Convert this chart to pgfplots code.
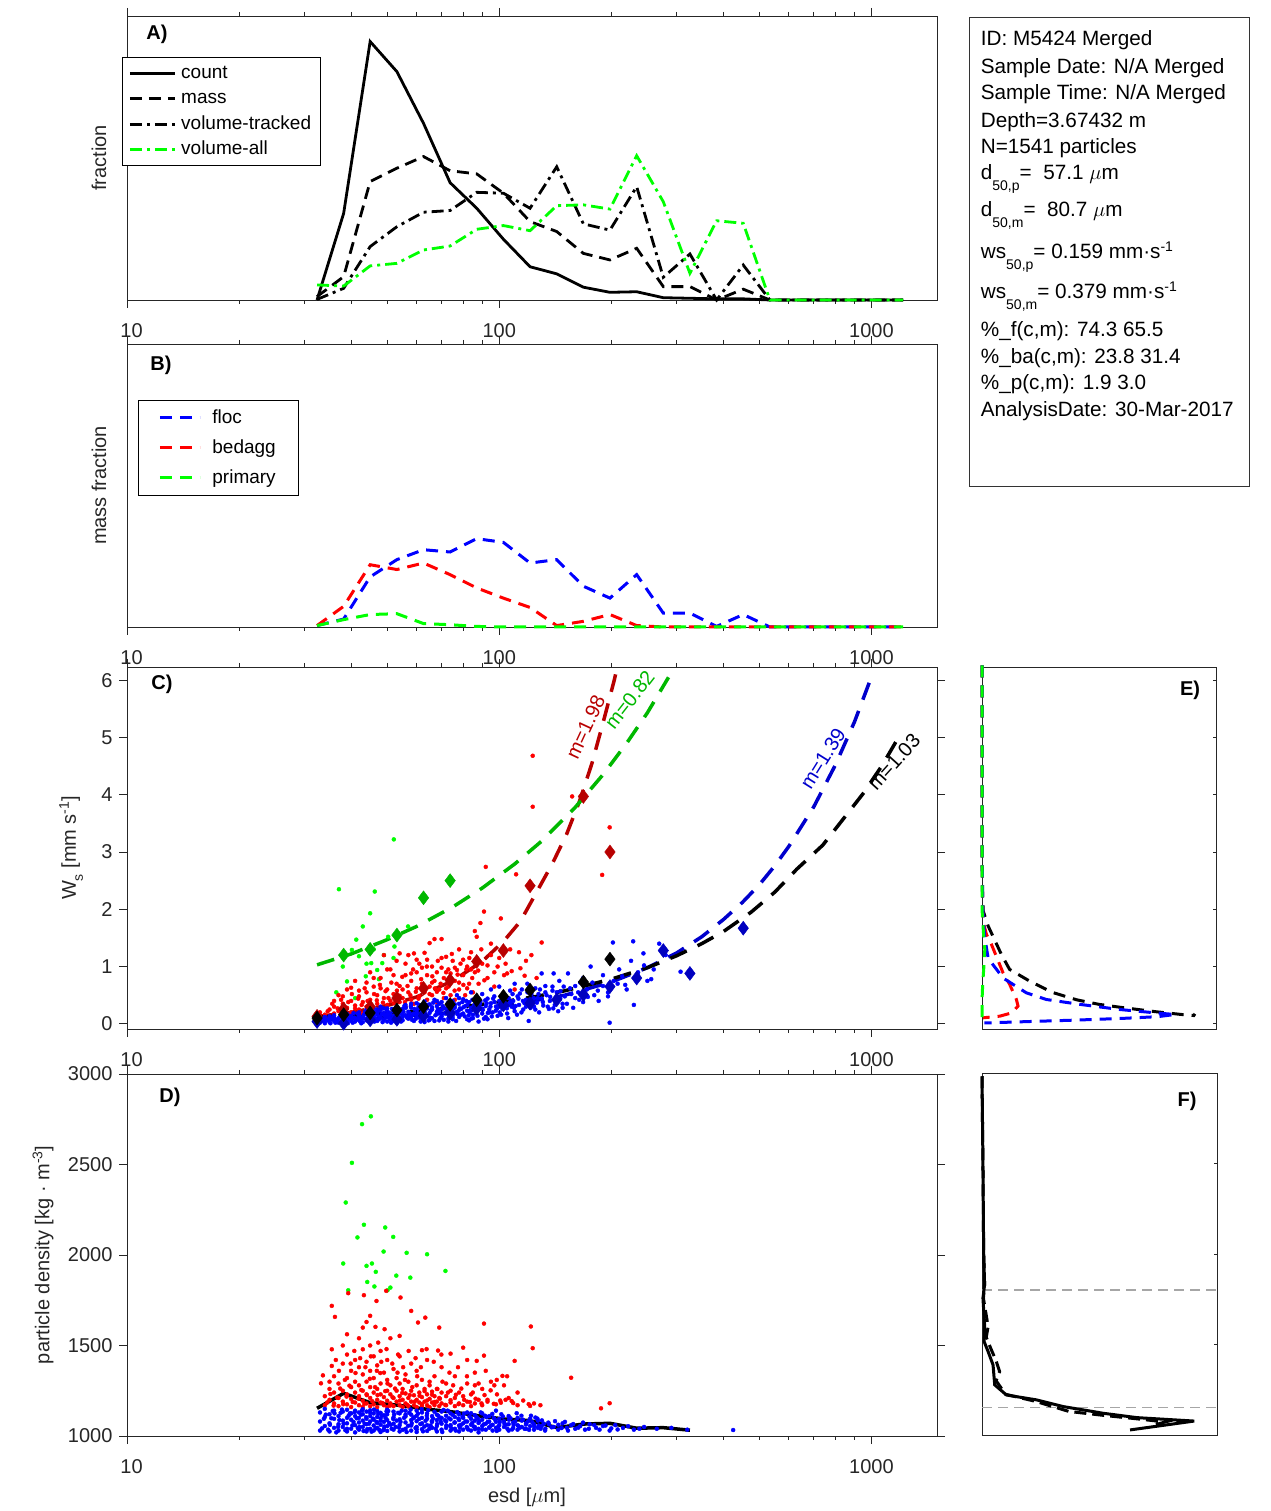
\documentclass[border=0pt]{standalone}
\usepackage{fontspec}
\setmainfont{Liberation Sans}
\usepackage{pgfplots}
\usepackage{pgfplotstable}
\pgfplotsset{compat=1.18}

\newcommand\fs{\fontsize{20}{24}\selectfont}
\newcommand\boxfont{\fontsize{20.7}{24}\selectfont}
\newcommand\legfont{\fontsize{19}{22}\selectfont}
\newcommand\sub[1]{\raisebox{-11pt}{\fontsize{14}{14}\selectfont #1}}
\newcommand\lsub[1]{\raisebox{-7pt}{\fontsize{14}{14}\selectfont #1}}
\newcommand\sups[1]{\raisebox{7pt}{\fontsize{14}{14}\selectfont #1}}

\definecolor{dred}{rgb}{0.72,0,0}
\definecolor{dgreen}{rgb}{0,0.72,0}
\definecolor{dblue}{rgb}{0,0,0.75}
\definecolor{fitblue}{rgb}{0,0,0.8}
\definecolor{mgreen}{rgb}{0,1,0}
\definecolor{axgray}{rgb}{0.15,0.15,0.15}

% size distributions, panels A and B (fractions of the panel height)
\pgfplotstableread{
esd    count mass  voltr volall floc  bedagg primary
32.4   0.000 0.012 0.002 0.053  0.005 0.005  0.005
38.2   0.305 0.082 0.041 0.049  0.028 0.073  0.026
45.0   0.910 0.417 0.188 0.120  0.177 0.220  0.044
53.1   0.804 0.464 0.258 0.129  0.238 0.203  0.047
62.6   0.622 0.505 0.309 0.176  0.273 0.226  0.012
73.8   0.413 0.455 0.315 0.190  0.265 0.185  0.008
87.0   0.323 0.444 0.379 0.249  0.312 0.138  0.002
102.6  0.214 0.376 0.376 0.262  0.299 0.102  0.000
121.0  0.117 0.276 0.323 0.244  0.226 0.069  0
142.7  0.092 0.241 0.469 0.332  0.238 0.005  0
168.3  0.045 0.164 0.268 0.335  0.144 0.020  0
198.4  0.027 0.141 0.246 0.320  0.102 0.044  0
234.0  0.029 0.182 0.399 0.508  0.185 0.005  0
275.9  0.008 0.047 0.080 0.346  0.049 0      0
325.3  0.006 0.047 0.162 0.094  0.049 0      0
383.7  0.004 0.000 0.000 0.279  0.002 0      0
452.4  0.004 0.038 0.123 0.270  0.044 0      0
533.5  0     0     0     0      0     0      0
629.1  0     0     0     0      0     0      0
741.8  0     0     0     0      0     0      0
874.8  0     0     0     0      0     0      0
1031.8 0     0     0     0      0     0      0
1216.5 0     0     0     0      0     0      0
}\psd

\pgfplotsset{
  every axis/.append style={
    scale only axis,
    axis line style={line width=0.9pt, axgray},
    tick label style={font=\fs, text=axgray}, label style={font=\fs, text=axgray},
    /pgf/number format/assume math mode=true,
    /pgf/number format/1000 sep={},
  },
  every tick/.style={axgray, line width=0.9pt},
}

\begin{document}
\begin{tikzpicture}[font=\fs]
\useasboundingbox (0,0) rectangle (1270pt,1511pt);

% ---------------- A
\begin{axis}[anchor=south west, at={(127pt,1211pt)}, width=810pt, height=284pt,
  xmode=log, xmin=10, xmax=1500,
  xtick={10,100,1000}, xticklabels={\hspace{9pt}10,100,1000},
  minor xtick={20,30,40,50,60,70,80,90,200,300,400,500,600,700,800,900},
  tick align=outside, major tick length=8pt, minor tick length=4pt,
  xticklabel style={yshift=-12pt},
  ymin=0, ymax=1, ytick=\empty, clip=false,
  ylabel={fraction}, ylabel style={at={(rel axis cs:-0.0346,0.5)}, anchor=center},
  legend image code/.code={\draw[#1] (0pt,0pt) -- (45pt,0pt);},
  legend style={at={(rel axis cs:-0.00617,0.8556)}, anchor=north west,
    draw=black, line width=0.8pt, inner xsep=6pt, inner ysep=3pt,
    column sep=2pt, row sep=0pt,
    nodes={inner sep=3pt, text height=15pt, text depth=4.5pt, font=\legfont},
    cells={anchor=west}},
]
\addplot[black, line width=2.8pt] table[x=esd, y=count] {\psd};
\addplot[black, line width=2.8pt, dash pattern=on 12pt off 7pt] table[x=esd, y=mass] {\psd};
\addplot[black, line width=2.8pt, dash pattern=on 12pt off 5pt on 3pt off 5pt] table[x=esd, y=voltr] {\psd};
\addplot[mgreen, line width=2.8pt, dash pattern=on 12pt off 5pt on 3pt off 5pt] table[x=esd, y=volall] {\psd};
\legend{count, mass, volume-tracked, volume-all}
\end{axis}

% ---------------- B
\begin{axis}[anchor=south west, at={(127pt,884pt)}, width=810pt, height=283pt,
  xmode=log, xmin=10, xmax=1500,
  xtick={10,100,1000}, xticklabels={\hspace{9pt}10,100,1000},
  minor xtick={20,30,40,50,60,70,80,90,200,300,400,500,600,700,800,900},
  tick align=outside, major tick length=8pt, minor tick length=4pt,
  xticklabel style={yshift=-12pt},
  ymin=0, ymax=1, ytick=\empty, clip=false,
  ylabel={mass fraction}, ylabel style={at={(rel axis cs:-0.0346,0.5)}, anchor=center},
  legend image code/.code={\draw[#1] (0pt,0pt) -- (40pt,0pt);},
  legend style={at={(rel axis cs:0.01358,0.8021)}, anchor=north west,
    draw=black, line width=0.8pt, inner xsep=20pt, inner ysep=2.5pt,
    column sep=8pt, row sep=0pt,
    nodes={inner xsep=3pt, inner ysep=5.25pt, text height=15pt, text depth=4.5pt, font=\legfont},
    cells={anchor=west}},
]
\addplot[blue, line width=3pt, dash pattern=on 12pt off 8pt] table[x=esd, y=floc] {\psd};
\addplot[red, line width=3pt, dash pattern=on 12pt off 8pt] table[x=esd, y=bedagg] {\psd};
\addplot[mgreen, line width=3pt, dash pattern=on 12pt off 8pt] table[x=esd, y=primary] {\psd};
\legend{floc, bedagg, primary}
\end{axis}

% ---------------- C
\begin{axis}[anchor=south west, at={(127pt,482pt)}, width=810pt, height=362pt,
  xmode=log, xmin=10, xmax=1500,
  xtick={10,100,1000}, xticklabels={\hspace{9pt}10,100,1000},
  minor xtick={20,30,40,50,60,70,80,90,200,300,400,500,600,700,800,900},
  tick align=outside, major tick length=8pt, minor tick length=4pt,
  xticklabel style={yshift=-12pt}, yticklabel style={xshift=-3pt},
  ymin=-0.09, ymax=6.23, ytick={0,1,2,3,4,5,6},
  ylabel={W\lsub{s} [mm s\sups{-1}]},
  ylabel style={at={(rel axis cs:-0.0691,0.5)}, anchor=center},
]
% primary particles
\addplot[only marks, mark=*, mark size=2pt, mgreen] coordinates {(37.1,2.35)(46.3,2.31)(52.1,3.22)(45,1.93)(43,1.70)(40.2,1.29)(45.3,1.06)(47,0.94)(50.3,1.52)(52.3,1.35)(56.9,1.70)(39,0.74)(43.8,0.83)(52,1.15)(48.5,1.06)(41.3,1.47)(44,1.05)(38,1.0)(42,1.18)(46,1.3)(49,1.2)(36.5,0.55)(41,0.45)(47.5,0.78)};
% bed aggregates
\addplot[only marks, mark=*, mark size=2pt, red] coordinates {(33,0.12)(33,0.2)(34,0.16)(35,0.25)(35,0.1)(36,0.3)(36,0.18)(37,0.5)(37,0.22)(38,0.35)(38,0.15)(39,0.28)(39,0.6)(40,0.4)(40,0.2)(41,0.32)(41,0.75)(42,0.25)(42,0.48)(43,0.38)(43,0.18)(44,0.55)(44,0.3)(45,0.9)(45,0.42)(46,0.22)(46,0.65)(47,0.35)(47,0.5)(48,0.8)(48,0.28)(49,0.45)(49,1.2)(50,0.6)(50,0.33)(51,0.4)(51,0.95)(52,0.52)(52,0.25)(53,0.7)(53,1.1)(54,0.38)(54,1.23)(55,0.6)(55,0.45)(56,0.85)(56,0.3)(57,1.2)(57,0.55)(58,0.42)(58,0.75)(59,1.23)(59,0.35)(60,0.62)(60,0.9)(61,0.48)(61,1.05)(62,0.3)(62,0.7)(63,0.55)(63,1.24)(64,0.85)(64,0.42)(65,1.41)(65,0.65)(66,0.5)(66,1.0)(67,1.48)(67,0.75)(68,0.38)(68,0.9)(69,0.6)(70,1.48)(70,1.15)(71,0.45)(71,0.8)(72,1.17)(73,0.65)(73,0.95)(74,0.5)(75,1.1)(76,0.75)(76,0.42)(77,0.94)(78,1.3)(78,0.6)(80,0.85)(81,0.5)(82,1.0)(83,0.7)(84,1.25)(85,0.55)(86,1.62)(86,0.9)(87,1.52)(88,0.7)(89,1.76)(90,1.05)(91,1.96)(92,2.74)(93,0.8)(95,1.2)(97,0.65)(99,1.0)(101,1.84)(103,0.85)(105,0.88)(107,1.3)(110,0.6)(111,2.61)(114,0.97)(118,1.1)(122,1.20)(123,3.79)(123,4.68)(126,0.8)(130,1.42)(157,3.97)(189,2.6)(198,3.43)
(34.6,0.22)(35.6,0.35)(36.8,0.27)(37.6,0.42)(38.4,0.21)(39.3,0.38)(40.2,0.52)(41.0,0.27)(41.8,0.44)(42.7,0.33)(43.5,0.62)(44.3,0.40)(45.4,0.28)(46.1,0.52)(46.9,0.41)(47.8,0.68)(48.7,0.37)(49.5,0.57)(50.4,0.45)(51.3,0.72)(52.2,0.36)(53.1,0.58)(54.0,0.49)(54.9,0.82)(55.8,0.38)(56.7,0.66)(57.7,0.50)(58.7,0.95)(59.7,0.56)(60.7,0.44)(61.7,0.78)(62.8,0.60)(63.9,1.00)(65.0,0.52)(66.1,0.83)(67.2,0.62)(68.4,1.10)(69.6,0.70)(70.8,0.54)(72.0,0.90)(73.3,0.72)(74.6,1.22)(75.9,0.58)(77.3,0.86)(78.7,1.05)(80.1,0.68)(81.6,0.95)(83.1,1.15)(84.6,0.80)(86.2,1.10)(87.8,0.93)(89.5,1.30)(91.2,0.76)(93,1.02)(95,1.40)(97,0.90)(100,1.15)(104,1.05)(108,0.92)(113,1.25)(117,0.84)
(36,0.40)(38,0.48)(40,0.63)(42,0.58)(44,0.72)(46,0.80)(48,0.62)(50,0.95)(52,0.85)(54,0.66)(56,1.05)(58,0.88)(60,1.12)(62,0.98)(64,1.12)(66,0.72)(68,0.56)(70,0.98)(72,0.62)(74,0.88)(76,0.98)(78,0.72)(80,1.12)(82,0.62)(84,0.95)};
% flocs
\addplot[only marks, mark=*, mark size=2pt, blue] coordinates {(33,0.02)(33,0.06)(34,0.04)(34,0.09)(35,0.03)(35,0.07)(36,0.05)(36,0.11)(37,0.02)(37,0.08)(38,0.04)(38,0.12)(39,0.06)(39,0.03)(40,0.09)(40,0.14)(38,0.0)(36,0.15)(34,0.12)(39,0.17)
(41,0.04)(41,0.10)(42,0.07)(42,0.15)(43,0.03)(43,0.12)(44,0.06)(44,0.18)(45,0.09)(45,0.02)(46,0.13)(46,0.21)(47,0.05)(47,0.16)(48,0.10)(48,0.24)(49,0.07)(49,0.19)(50,0.12)(50,0.04)(42,0.2)(44,0.25)(46,0.28)(48,0.3)(50,0.27)
(51,0.08)(51,0.17)(52,0.22)(52,0.05)(53,0.13)(53,0.30)(54,0.10)(54,0.19)(55,0.26)(55,0.06)(56,0.15)(56,0.33)(57,0.09)(57,0.21)(58,0.28)(58,0.12)(59,0.05)(59,0.18)(60,0.24)(60,0.36)(61,0.11)(61,0.30)(62,0.16)(62,0.08)(63,0.22)(63,0.39)(64,0.14)(64,0.27)(65,0.19)(65,0.34)
(66,0.10)(66,0.25)(67,0.42)(68,0.17)(68,0.31)(69,0.06)(69,0.22)(70,0.38)(70,0.13)(71,0.28)(72,0.19)(72,0.45)(73,0.09)(73,0.33)(74,0.24)(75,0.15)(75,0.40)(76,0.29)(77,0.21)(77,0.50)(78,0.12)(78,0.35)(79,0.26)(80,0.43)(80,0.18)(81,0.31)(82,0.08)(82,0.23)(83,0.38)(84,0.28)(84,0.55)(85,0.16)
(86,0.34)(87,0.22)(87,0.46)(88,0.04)(88,0.29)(89,0.40)(90,0.18)(90,0.52)(92,0.31)(92,0.12)(93,0.44)(94,0.25)(95,0.36)(95,0.60)(96,0.20)(97,0.48)(98,0.30)(99,0.14)(100,0.40)(100,0.65)(102,0.26)(103,0.50)(104,0.35)(105,0.18)(106,0.45)(107,0.58)(108,0.30)(109,0.40)(110,0.70)(110,0.22)
(112,0.48)(113,0.33)(115,0.60)(116,0.25)(118,0.42)(119,0.70)(120,0.05)(121,0.37)(122,0.52)(124,0.30)(125,0.62)(127,0.45)(128,0.20)(130,0.88)(131,0.38)(133,0.55)(135,0.30)(137,0.47)(139,0.65)(140,0.88)(142,0.40)(144,0.22)(146,0.57)(148,0.35)(150,0.48)
(153,0.88)(155,0.62)(158,0.28)(160,0.45)(163,0.55)(165,0.72)(168,0.38)(172,0.60)(176,1.00)(180,0.50)(185,0.40)(190,0.66)(196,0.55)(198,0.02)(202,1.42)(208,0.70)(214,0.83)(220,0.60)(229,1.44)(230,0.33)(236,0.90)(244,1.23)(250,0.75)(260,0.95)(269,1.40)(280,1.20)(307,0.91)
(45,0.14)(55,0.12)(65,0.07)(75,0.08)(85,0.10)(47,0.25)(58,0.35)(68,0.40)(78,0.45)(53,0.02)(63,0.03)(73,0.04)(83,0.06)(93,0.08)(70,0.25)(60,0.2)(50,0.16)(40,0.05)(35,0.13)
(33.5,0.05)(34.3,0.08)(35.2,0.01)(35.8,0.10)(36.6,0.07)(37.4,0.13)(37.9,0.05)(38.7,0.09)(39.5,0.14)(40.4,0.02)(40.8,0.11)(41.6,0.18)(42.3,0.04)(42.9,0.10)(43.6,0.21)(44.4,0.14)(45.1,0.05)(45.7,0.17)(46.5,0.09)(47.2,0.22)(47.8,0.12)(48.6,0.03)(49.3,0.15)(49.9,0.23)(50.7,0.10)(51.5,0.26)(52.4,0.14)(53.2,0.07)(54.1,0.24)(54.8,0.16)(55.6,0.31)(56.5,0.11)(57.4,0.19)(58.3,0.07)(59.2,0.26)(60.1,0.15)(61.0,0.33)(61.9,0.20)(62.8,0.12)(63.7,0.29)(64.6,0.06)(65.5,0.23)(66.5,0.37)(67.4,0.15)(68.4,0.26)(69.5,0.10)(70.5,0.31)(71.6,0.18)(72.7,0.36)(73.8,0.22)(74.9,0.11)(76.0,0.34)(77.2,0.17)(78.4,0.27)(79.6,0.38)(80.8,0.13)(82.1,0.33)(83.4,0.20)(84.7,0.42)(86.0,0.26)(87.4,0.14)(88.8,0.35)(90.2,0.24)(91.7,0.41)(93.2,0.19)(94.7,0.30)(96.3,0.44)(97.9,0.23)(99.5,0.33)(101.2,0.16)(103,0.42)(104.8,0.27)(106.7,0.37)(108.6,0.52)(110.6,0.31)(112.6,0.44)(114.7,0.20)(116.9,0.36)(119.1,0.55)(121.4,0.28)(123.8,0.45)(126.2,0.37)(128.7,0.60)(131.3,0.32)(134,0.50)(136.8,0.40)(139.7,0.27)(142.7,0.55)(145.8,0.44)(149,0.65)(152,0.35)(156,0.52)(160,0.66)(164,0.42)(168,0.80)(173,0.47)(178,0.72)(184,0.58)(190,0.85)(196,0.48)(203,0.75)(210,0.95)(218,0.68)(226,1.10)(235,0.86)(245,1.02)(256,0.78)
(33.2,0.09)(34.0,0.01)(34.8,0.06)(35.5,0.11)(36.3,0.02)(37.0,0.10)(37.7,0.16)(38.4,0.07)(39.2,0.01)(40.0,0.12)(40.6,0.19)(41.3,0.07)(42.0,0.13)(42.6,0.01)(43.3,0.16)(44.0,0.09)(44.8,0.23)(45.5,0.12)(46.2,0.04)(47.0,0.19)(47.5,0.08)(48.3,0.17)(49.0,0.27)(49.6,0.11)(50.4,0.20)(51.2,0.02)(52.0,0.12)(52.8,0.27)(53.7,0.18)(54.5,0.04)(55.3,0.21)(56.1,0.28)(57.0,0.13)(57.9,0.31)(58.8,0.17)(59.7,0.09)(60.6,0.28)(61.5,0.04)(62.4,0.25)(63.3,0.16)(64.2,0.33)(65.1,0.11)(66.0,0.29)(67.0,0.05)(68.0,0.21)(69.0,0.35)(70.0,0.16)(71.0,0.07)(72.2,0.25)(73.3,0.14)(74.4,0.38)(75.5,0.27)(76.6,0.05)(77.8,0.23)(79.0,0.16)(80.2,0.29)(81.5,0.40)(82.8,0.15)(84.1,0.09)(85.4,0.31)(86.8,0.19)(88.2,0.41)(89.6,0.27)(91.0,0.09)(92.5,0.36)(94.0,0.20)(95.5,0.13)(97.1,0.38)(98.7,0.27)(100.3,0.20)(102.1,0.47)(103.9,0.30)(105.7,0.10)(107.6,0.39)(109.6,0.28)(111.6,0.16)(113.6,0.53)(115.8,0.40)(118,0.30)(120.2,0.62)(122.6,0.42)(125,0.25)(127.5,0.52)(130,0.44)(133,0.66)(136,0.26)(139,0.58)(141,0.33)(145,0.75)(148,0.28)};
% bin means
\addplot[only marks, mark=diamond*, mark size=7pt, dred] coordinates {(32.4,0.13)(38.2,0.26)(45.0,0.30)(53.1,0.45)(62.6,0.62)(73.8,0.76)(87.0,1.09)(102.6,1.28)(121.0,2.41)(168.3,3.97)(198.4,3.0)};
\addplot[only marks, mark=diamond*, mark size=7pt, dgreen] coordinates {(38.2,1.2)(45.0,1.30)(53.1,1.55)(62.6,2.2)(73.8,2.5)};
\addplot[only marks, mark=diamond*, mark size=7pt, dblue] coordinates {(32.4,0.04)(38.2,0.01)(45.0,0.07)(53.1,0.08)(62.6,0.14)(73.8,0.19)(87.0,0.27)(102.6,0.33)(121.0,0.36)(142.7,0.42)(168.3,0.51)(198.4,0.65)(234.0,0.80)(275.9,1.28)(325.3,0.88)(452.4,1.67)};
\addplot[only marks, mark=diamond*, mark size=7pt, black] coordinates {(32.4,0.10)(38.2,0.16)(45.0,0.19)(53.1,0.24)(62.6,0.30)(73.8,0.34)(87.0,0.42)(102.6,0.48)(121.0,0.59)(168.3,0.73)(198.4,1.13)};
% fits
\addplot[dred, line width=3.5pt, dash pattern=on 18pt off 12pt] coordinates {(32.4,0.128)(40,0.2)(50,0.32)(60,0.47)(75,0.75)(90,1.09)(102.7,1.44)(114,1.79)(126,2.3)(139,2.8)(151.7,3.31)(164.4,3.89)(177.5,4.55)(190.5,5.28)(203.7,6.0)(207,6.2)};
\addplot[dgreen, line width=3.5pt, dash pattern=on 18pt off 12pt] coordinates {(32.4,1.03)(40,1.22)(50,1.47)(60,1.70)(75,2.04)(90,2.37)(110,2.79)(130,3.19)(160,3.78)(190,4.35)(220,4.90)(250,5.43)(282,6.0)(285,6.05)};
\addplot[fitblue, line width=3.5pt, dash pattern=on 18pt off 12pt] coordinates {(32.4,0.067)(50,0.118)(75,0.20)(100,0.294)(150,0.50)(200,0.73)(250,0.98)(300,1.24)(350,1.52)(400,1.82)(450,2.12)(500,2.43)(550,2.76)(600,3.10)(700,3.79)(800,4.52)(900,5.27)(1000,6.06)};
\addplot[black, line width=3.5pt, dash pattern=on 18pt off 12pt] coordinates {(32.4,0.116)(40,0.145)(50,0.183)(60,0.22)(75,0.279)(100,0.377)(125,0.475)(150,0.577)(200,0.78)(250,0.98)(300,1.19)(350,1.40)(400,1.61)(475,1.95)(550,2.3)(630,2.7)(740,3.12)(850,3.62)(955,4.04)(1070,4.52)(1194,5.05)};
\node[dred, rotate=65] at (axis cs:170.5,5.18) {m=1.98};
\node[dgreen, rotate=52] at (axis cs:224,5.66) {m=0.82};
\node[fitblue, rotate=58] at (axis cs:740,4.63) {m=1.39};
\node[black, rotate=48] at (axis cs:1149,4.57) {m=1.03};
\end{axis}

% ---------------- D
\begin{axis}[anchor=south west, at={(127pt,75pt)}, width=810pt, height=362pt,
  xmode=log, xmin=10, xmax=1500,
  xtick={10,100,1000}, xticklabels={\hspace{9pt}10,100,1000},
  minor xtick={20,30,40,50,60,70,80,90,200,300,400,500,600,700,800,900},
  tick align=outside, major tick length=8pt, minor tick length=4pt,
  xticklabel style={yshift=-12pt}, yticklabel style={xshift=-3pt},
  ymin=1000, ymax=3000, ytick={1000,1500,2000,2500,3000},
  ylabel={particle density [kg · m\sups{-3}]},
  ylabel style={at={(rel axis cs:-0.1037,0.5)}, anchor=center},
  xlabel={esd [$\mu$m]},
  xlabel style={at={(rel axis cs:0.4938,-0.1685)}, anchor=center},
]
\addplot[only marks, mark=*, mark size=2pt, mgreen] coordinates {(45.2,2766)(42.8,2723)(40.2,2509)(38.7,2290)(43.3,2167)(49.4,2152)(41.6,2097)(51.9,2100)(48.9,2019)(56.4,2012)(64.0,2004)(38.1,1953)(44.0,1940)(45.5,1953)(46.6,1907)(52.9,1886)(57.7,1875)(71.7,1912)(44.2,1851)(46.2,1826)(39.3,1805)(51.0,1820)(50.1,1805)};
\addplot[only marks, mark=*, mark size=2pt, red] coordinates {(33.2,1291)(33.6,1335)(35.5,1387)(35.5,1479)(35.5,1719)(36.2,1658)(39.3,1789)(43.3,1778)(45,1664)(46.8,1746)(49.7,1802)(54.3,1765)(58,1691)(63.3,1654)(60.5,1627)(69,1599)(91,1621)(121.6,1605)(123,1485)(110,1415)(156,1322)(187.7,1153)(198,1181)(39,1562)(43,1599)(46.5,1603)(49.2,1590)(43,1479)(47.3,1516)(54,1553)(62,1474)(68.5,1472)(80,1488)(74,1455)(87,1415)(91,1444)(102,1332)(98.5,1310)(108,1193)(101,1184)(121,1166)(129,1170)
(34,1170)(34,1220)(35,1200)(35,1260)(36,1180)(36,1240)(36,1330)(37,1165)(37,1210)(37,1290)(38,1190)(38,1250)(38,1400)(38,1500)(39,1175)(39,1230)(39,1320)(39,1450)(40,1160)(40,1205)(40,1270)(40,1360)(41,1185)(41,1240)(41,1300)(41,1420)(42,1170)(42,1220)(42,1280)(42,1380)(42,1540)(43,1160)(43,1195)(43,1250)(43,1340)(44,1180)(44,1230)(44,1300)(44,1410)(44,1630)(45,1165)(45,1210)(45,1270)(45,1360)(45,1500)(46,1175)(46,1240)(46,1320)(46,1440)(47,1160)(47,1200)(47,1260)(47,1390)(48,1185)(48,1230)(48,1290)(48,1470)(49,1170)(49,1215)(49,1350)(50,1160)(50,1195)(50,1250)(50,1310)(50,1420)(51,1180)(51,1230)(51,1280)(51,1540)(52,1165)(52,1210)(52,1370)(53,1190)(53,1250)(53,1320)(54,1170)(54,1220)(54,1290)(54,1440)(55,1160)(55,1200)(55,1260)(56,1180)(56,1235)(56,1340)(57,1165)(57,1210)(57,1300)(58,1190)(58,1250)(58,1400)(59,1170)(59,1225)(60,1160)(60,1200)(60,1280)(60,1360)(61,1185)(61,1240)(62,1165)(62,1215)(62,1310)(63,1190)(63,1260)(64,1170)(64,1230)(64,1420)(65,1160)(65,1205)(65,1280)(66,1185)(66,1245)(67,1170)(67,1220)(67,1330)(68,1190)(68,1260)(69,1165)(69,1210)(70,1180)(70,1240)(70,1380)(72,1170)(72,1220)(72,1290)(74,1185)(74,1250)(76,1165)(76,1210)(76,1330)(78,1180)(78,1240)(80,1170)(80,1220)(82,1190)(82,1290)(84,1165)(84,1230)(86,1180)(86,1350)(88,1200)(90,1170)(90,1260)(93,1190)(95,1300)(98,1175)(104,1200)(112,1170)(124,1180)
(34.5,1185)(35.2,1232)(35.9,1168)(36.7,1212)(37.4,1262)(38.1,1176)(38.9,1218)(39.6,1278)(40.4,1188)(41.1,1348)(41.9,1206)(42.6,1254)(43.4,1178)(44.1,1226)(44.9,1316)(45.6,1192)(46.4,1270)(47.1,1226)(47.9,1348)(48.6,1182)(49.4,1248)(50.1,1290)(50.9,1168)(51.7,1214)(52.5,1262)(53.3,1350)(54.1,1196)(54.9,1238)(55.8,1310)(56.6,1172)(57.5,1226)(58.4,1270)(59.3,1190)(60.2,1330)(61.1,1222)(62.0,1176)(63.0,1248)(64.0,1196)(65.0,1300)(66.0,1228)(67.1,1188)(68.2,1260)(69.3,1206)(70.4,1300)(71.6,1172)(72.8,1240)(74.0,1198)(75.2,1280)(76.5,1228)(77.8,1176)(79.1,1262)(80.5,1200)(81.9,1330)(83.4,1188)(84.9,1240)(86.4,1206)(88.0,1290)(89.6,1180)(91.3,1226)(93.0,1200)(94.8,1252)(96.7,1178)(98.6,1230)(100.6,1196)(103,1280)(106,1210)(109,1182)(112,1240)(116,1196)(120,1176)
(35.0,1300)(36.4,1420)(37.1,1360)(38.5,1310)(39.9,1400)(40.8,1470)(42.3,1430)(43.7,1380)(45.2,1440)(46.9,1360)(48.2,1410)(49.8,1480)(51.6,1400)(53.5,1450)(55.2,1380)(57.1,1470)(59.6,1430)(61.6,1380)(63.8,1480)(66.7,1410)(69.9,1450)(73.5,1350)(77.5,1380)(82,1420)(86,1280)(92,1360)(97,1280)(105,1330)};
\addplot[only marks, mark=*, mark size=2pt, blue] coordinates {(33,1030)(33,1080)(33,1130)(34,1055)(34,1105)(34,1150)(35,1025)(35,1070)(35,1120)(36,1045)(36,1095)(36,1140)(37,1030)(37,1065)(37,1110)(38,1050)(38,1085)(38,1135)(39,1025)(39,1070)(39,1100)(39,1145)(40,1040)(40,1090)(40,1125)
(41,1020)(41,1060)(41,1110)(41,1140)(42,1035)(42,1075)(42,1100)(42,1130)(43,1050)(43,1085)(43,1120)(43,1148)(44,1025)(44,1065)(44,1095)(44,1135)(45,1040)(45,1080)(45,1110)(45,1142)(46,1030)(46,1058)(46,1090)(46,1125)(47,1045)(47,1072)(47,1105)(47,1138)(48,1022)(48,1062)(48,1098)(48,1128)(49,1038)(49,1078)(49,1115)(50,1028)(50,1055)(50,1088)(50,1120)(50,1145)
(52,1035)(52,1068)(52,1102)(52,1135)(54,1025)(54,1060)(54,1092)(54,1125)(56,1040)(56,1075)(56,1108)(56,1140)(58,1030)(58,1058)(58,1088)(58,1118)(60,1022)(60,1050)(60,1082)(60,1112)(60,1140)(62,1038)(62,1070)(62,1100)(62,1130)(64,1028)(64,1060)(64,1095)(64,1125)(66,1045)(66,1078)(66,1110)(68,1025)(68,1055)(68,1088)(68,1118)(70,1035)(70,1068)(70,1100)(70,1135)(72,1045)(72,1080)(72,1112)(74,1030)(74,1060)(74,1092)(74,1125)(76,1040)(76,1075)(76,1105)(78,1025)(78,1058)(78,1088)(78,1120)(80,1035)(80,1070)(80,1100)(82,1045)(82,1080)(82,1130)(84,1030)(84,1062)(84,1095)(86,1050)(86,1085)(86,1115)(88,1020)(88,1040)(88,1072)(90,1055)(90,1090)(90,1125)(92,1035)(92,1068)(94,1048)(94,1080)(94,1110)(96,1030)(96,1062)(98,1045)(98,1078)(98,1140)(100,1035)(100,1060)(100,1095)(103,1050)(103,1082)(106,1030)(106,1065)(106,1110)(109,1045)(109,1075)(112,1035)(112,1060)(112,1100)(115,1050)(115,1085)(118,1040)(118,1070)(121,1055)(121,1095)(124,1035)(124,1065)(127,1045)(127,1085)(130,1055)(133,1040)(136,1065)(140,1050)(144,1035)(148,1070)(152,1045)(156,1060)(160,1040)(165,1055)(170,1035)(175,1065)(182,1045)(190,1055)(198,1030)(205,1060)(215,1045)(230,1035)(245,1050)(265,1040)(290,1045)(320,1035)(425,1033)
(33.4,1042)(34.2,1118)(35.1,1062)(35.7,1138)(36.5,1020)(37.2,1088)(37.8,1146)(38.6,1032)(39.4,1112)(40.3,1058)(40.9,1132)(41.7,1044)(42.5,1118)(43.2,1028)(43.9,1104)(44.7,1068)(45.4,1024)(46.1,1146)(46.8,1078)(47.6,1034)(48.4,1112)(49.1,1052)(49.8,1136)(50.6,1072)(51.4,1040)(52.2,1118)(53.0,1085)(53.8,1046)(54.7,1140)(55.5,1100)(56.4,1022)(57.3,1128)(58.2,1070)(59.1,1104)(60.0,1036)(60.9,1094)(61.9,1148)(62.9,1052)(63.9,1112)(64.9,1040)(65.9,1082)(67.0,1134)(68.1,1066)(69.2,1100)(70.3,1022)(71.5,1088)(72.7,1140)(73.9,1054)(75.1,1116)(76.4,1030)(77.7,1096)(79,1062)(80.4,1124)(81.8,1050)(83.2,1108)(84.6,1072)(86.1,1038)(87.6,1096)(89.2,1130)(90.8,1064)(92.4,1104)(94.1,1046)(95.8,1122)(97.6,1088)(99.4,1052)(101.3,1120)(103.2,1070)(105.2,1040)(107.2,1098)(109.3,1062)(111.4,1126)(113.6,1046)(115.8,1090)(118,1064)(120.3,1034)(122.7,1076)(125.1,1102)(127.6,1058)(130.2,1086)(132.8,1030)(135.5,1074)(138.3,1048)(141.2,1082)(144.1,1062)(147.1,1044)(150.2,1078)(153,1030)(158,1066)(163,1046)(168,1074)(174,1040)(180,1060)(186,1035)(193,1058)(200,1042)(208,1036)(222,1054)(238,1040)
(33.8,1095)(34.7,1035)(35.4,1098)(36.1,1125)(36.9,1050)(37.5,1128)(38.2,1068)(39.0,1040)(39.7,1125)(40.6,1078)(41.4,1098)(42.1,1050)(42.8,1142)(43.5,1068)(44.2,1038)(45.0,1128)(45.8,1096)(46.6,1042)(47.3,1122)(48.0,1084)(48.8,1032)(49.5,1100)(50.3,1138)(51.1,1062)(51.9,1094)(52.7,1050)(53.5,1128)(54.3,1078)(55.1,1034)(56.0,1118)(56.9,1056)(57.8,1146)(58.7,1098)(59.6,1044)(60.5,1124)(61.4,1066)(62.4,1026)(63.4,1084)(64.4,1142)(65.4,1058)(66.4,1096)(67.5,1040)(68.6,1112)(69.7,1078)(70.9,1144)(72.1,1058)(73.3,1098)(74.5,1040)(75.8,1074)(77.1,1132)(78.4,1046)(79.7,1106)(81.1,1080)(82.5,1036)(84.0,1126)(85.4,1052)(86.9,1104)(88.4,1080)(90.0,1036)(91.6,1112)(93.2,1078)(95.0,1058)(96.7,1100)(98.5,1028)(100.4,1078)(102.3,1108)(104.2,1062)(106.2,1090)(108.3,1036)(110.4,1080)(112.5,1056)(114.7,1112)(117,1040)(119.3,1080)(121.7,1112)(124.1,1052)(126.6,1096)(129.2,1040)(131.8,1068)};
\addplot[black, line width=3.5pt] coordinates {(32.4,1153)(38.2,1236)(45,1184)(53.1,1171)(62.6,1150)(73.8,1135)(87,1113)(102.6,1094)(121,1085)(142.7,1046)(168.3,1066)(198.4,1070)(234,1043)(275.9,1046)(325.3,1032)};
\end{axis}

% ---------------- E
\begin{axis}[anchor=south west, at={(982pt,482pt)}, width=234pt, height=362pt,
  xmin=0, xmax=1, xtick=\empty, ytick pos=right, yticklabels={},
  tick align=inside, major tick length=3.5pt, clip=false,
  ymin=-0.09, ymax=6.23, ytick={0,1,2,3,4,5,6}]
\addplot[black, line width=3pt, dash pattern=on 12pt off 8pt] coordinates {(0,6.26)(0,5)(0,4)(0,3)(0.003,2.2)(0.005,1.97)(0.026,1.71)(0.083,1.21)(0.118,0.95)(0.204,0.745)(0.30,0.55)(0.404,0.42)(0.50,0.34)(0.589,0.29)(0.746,0.21)(0.86,0.16)(0.905,0.145)(0.91,0.175)};
\addplot[red, line width=3pt, dash pattern=on 12pt off 8pt] coordinates {(0,6.26)(0,3)(0.003,2.0)(0.004,1.79)(0.019,1.56)(0.04,1.39)(0.09,0.89)(0.118,0.69)(0.147,0.425)(0.154,0.31)(0.126,0.19)(0.076,0.134)(0.004,0.105)};
\addplot[blue, line width=3pt, dash pattern=on 12pt off 8pt] coordinates {(0,6.26)(0,3)(0.003,2.0)(0.011,1.53)(0.026,1.15)(0.04,1.07)(0.09,0.80)(0.19,0.54)(0.275,0.425)(0.418,0.34)(0.589,0.25)(0.746,0.19)(0.825,0.163)(0.75,0.125)(0.6,0.095)(0.4,0.065)(0.2,0.04)(0.05,0.02)(0.01,0.015)};
\addplot[mgreen, line width=3pt, dash pattern=on 12pt off 8pt] coordinates {(0,6.26)(0,2.0)(0.006,1.6)(0.012,1.3)(0.008,1.0)(0.003,0.7)(0,0.4)(0,0.05)};
\end{axis}

% ---------------- F
\begin{axis}[anchor=south west, at={(982pt,76pt)}, width=235pt, height=362pt,
  xmin=0, xmax=1, xtick=\empty, ytick pos=right, yticklabels={},
  tick align=inside, major tick length=3.5pt, clip=false,
  ymin=1000, ymax=3000, ytick={1500,2000,2500}]
\addplot[gray!70, line width=1.5pt, dash pattern=on 10pt off 6pt] coordinates {(0,1800)(1,1800)};
\addplot[gray!70, line width=1.5pt, dash pattern=on 10pt off 6pt] coordinates {(0,1153)(1,1153)};
\addplot[black, line width=3pt, dash pattern=on 12pt off 6pt] coordinates {(0,2982)(0.004,2493)(0.007,2014)(0.011,1830)(0.006,1756)(0.026,1599)(0.018,1540)(0.04,1470)(0.06,1410)(0.075,1350)(0.06,1300)(0.1,1225)(0.23,1185)(0.37,1130)(0.52,1108)(0.64,1092)(0.78,1072)(0.74,1058)};
\addplot[black, line width=3pt] coordinates {(0,2982)(0.004,2493)(0.007,2014)(0.011,1830)(0.004,1756)(0.011,1608)(0.009,1516)(0.026,1461)(0.047,1387)(0.054,1277)(0.104,1221)(0.232,1194)(0.346,1157)(0.516,1120)(0.659,1096)(0.903,1077)(0.63,1028)};
\end{axis}

% panel letters
\node[font=\fs\bfseries] at (157pt,1476.5pt) {A)};
\node[font=\fs\bfseries] at (161pt,1146pt) {B)};
\node[font=\fs\bfseries] at (162pt,826.5pt) {C)};
\node[font=\fs\bfseries] at (170pt,414pt) {D)};
\node[font=\fs\bfseries] at (1190pt,821pt) {E)};
\node[font=\fs\bfseries] at (1187pt,410pt) {F)};

% info box
\draw[line width=0.8pt, black!80] (969pt,1025pt) rectangle (1249.3pt,1493.7pt);
\begin{scope}[every node/.style={anchor=base west, inner sep=0pt, font=\boxfont}]
\node at (980.7pt,1465pt) {ID: M5424 Merged};
\node at (980.7pt,1437.7pt) {Sample Date: N/A Merged};
\node at (980.7pt,1411pt) {Sample Time: N/A Merged};
\node at (980.7pt,1383.7pt) {Depth=3.67432 m};
\node at (980.7pt,1357pt) {N=1541 particles};
\node at (980.7pt,1331pt) {d\sub{50,p}=\ \ 57.1 $\mu$m};
\node at (980.7pt,1294.3pt) {d\sub{50,m}=\ \ 80.7 $\mu$m};
\node at (980.7pt,1252.7pt) {ws\sub{50,p}= 0.159 mm·s\sups{-1}};
\node at (980.7pt,1212.7pt) {ws\sub{50,m}= 0.379 mm·s\sups{-1}};
\node at (980.7pt,1174.3pt) {\%\_f(c,m): 74.3 65.5};
\node at (980.7pt,1147.7pt) {\%\_ba(c,m): 23.8 31.4};
\node at (980.7pt,1121pt) {\%\_p(c,m): 1.9 3.0};
\node at (980.7pt,1094.3pt) {AnalysisDate: 30-Mar-2017};
\end{scope}
\end{tikzpicture}
\end{document}
